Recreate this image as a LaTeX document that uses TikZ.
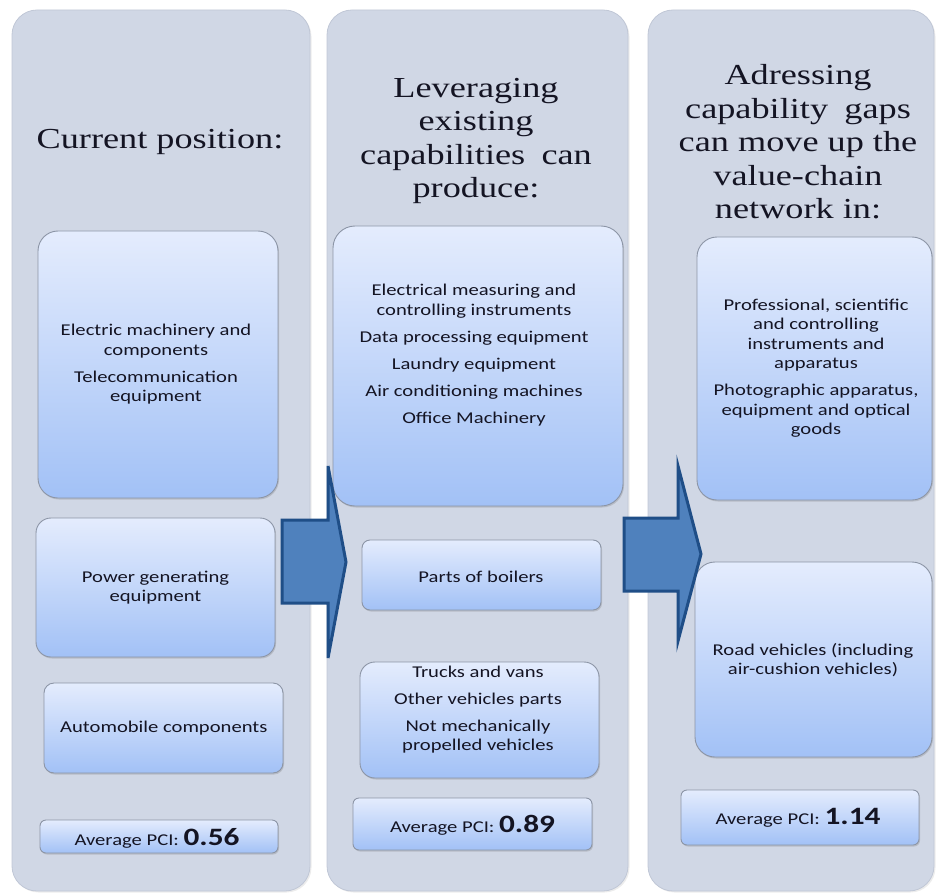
\documentclass[tikz,border=0pt]{standalone}
\usepackage{fontspec}
\setmainfont[FakeStretch=1.25]{Liberation Serif}
\newfontfamily\calfont[FakeStretch=1.25]{Carlito}
\usetikzlibrary{shadows}
\definecolor{colbg}{RGB}{208,215,229}
\definecolor{colln}{RGB}{192,199,214}
\definecolor{boxtop}{RGB}{228,236,253}
\definecolor{boxbot}{RGB}{162,193,246}
\definecolor{boxln}{RGB}{140,149,166}
\definecolor{arrfill}{RGB}{79,129,189}
\definecolor{arrln}{RGB}{31,78,135}
\definecolor{txt}{RGB}{20,20,35}
\tikzset{
  col/.style={draw=colln, fill=colbg, line width=0.8pt, rounded corners=25pt, inner sep=0pt,
    drop shadow={shadow xshift=1.5pt, shadow yshift=-1.5pt, opacity=0.15}},
  box/.style={draw=boxln, line width=0.9pt, top color=boxtop, bottom color=boxbot, inner sep=0pt,
    drop shadow={shadow xshift=1pt, shadow yshift=-1.5pt, opacity=0.3}},
  headtxt/.style={font=\fontsize{29}{33.5}\selectfont, align=center, text=txt, inner sep=0pt},
  itemtxt/.style={font=\calfont\fontsize{16.5}{19.5}\selectfont, align=center, text=txt, inner sep=0pt},
  blockarrow/.style={draw=arrln, fill=arrfill, line width=3pt, line join=miter},
}
\newcommand{\pci}[1]{{\calfont\fontsize{16.5}{19.5}\selectfont Average PCI: }{\calfont\bfseries\fontsize{25}{28}\selectfont #1}}
\begin{document}
\begin{tikzpicture}[x=1pt, y=-1pt]
\useasboundingbox (0,0) rectangle (936,893);
% columns
\node[col, minimum width=298pt, minimum height=881pt] (c1) at (161,450.5) {};
\node[col, minimum width=301pt, minimum height=881pt] (c2) at (477.5,450.5) {};
\node[col, minimum width=286pt, minimum height=881pt] (c3) at (791,450.5) {};
% headers
\node[headtxt] (h1) at (160,142) {Current position:};
\node[headtxt] (h2) at (476,141) {Leveraging\\existing\\capabilities\hspace{0.25em} can\\produce:};
\node[headtxt] (h3) at (798,142) {Adressing\\capability\hspace{0.25em} gaps\\can move up the\\value-chain\\network in:};
% column 1 boxes
\node[box, rounded corners=20pt, minimum width=240pt, minimum height=267pt] (bA) at (158,364.5) {};
\node[box, rounded corners=15pt, minimum width=239pt, minimum height=139pt] (bB) at (155.5,587.5) {};
\node[box, rounded corners=10pt, minimum width=239pt, minimum height=90pt] (bC) at (163.5,728) {};
\node[box, rounded corners=6pt, minimum width=238pt, minimum height=33pt] (p1) at (159,836.5) {};
% column 2 boxes
\node[box, rounded corners=22pt, minimum width=290pt, minimum height=280pt] (bD) at (478,366) {};
\node[box, rounded corners=8pt, minimum width=239pt, minimum height=70pt] (bE) at (481.5,575) {};
\node[box, rounded corners=15pt, minimum width=239pt, minimum height=116pt] (bF) at (479.5,720) {};
\node[box, rounded corners=6pt, minimum width=239pt, minimum height=52pt] (p2) at (472.5,824) {};
% column 3 boxes
\node[box, rounded corners=20pt, minimum width=235pt, minimum height=263pt] (bG) at (814.5,368.5) {};
\node[box, rounded corners=20pt, minimum width=237pt, minimum height=195pt] (bH) at (813.5,659.5) {};
\node[box, rounded corners=6pt, minimum width=238pt, minimum height=55pt] (p3) at (800,817.5) {};
% texts
\node[itemtxt] (tA) at (156,364.5) {Electric machinery and\\components\\[7.5pt]Telecommunication\\equipment};
\node[itemtxt] (tB) at (155.5,587.5) {Power generating\\equipment};
\node[itemtxt] (tC) at (163.8,728) {Automobile components};
\node[itemtxt] (tP1) at (157,838) {\pci{0.56}};
\node[itemtxt] (tD) at (474,355) {Electrical measuring and\\controlling instruments\\[7.5pt]Data processing equipment\\[7.5pt]Laundry equipment\\[7.5pt]Air conditioning machines\\[7.5pt]Office Machinery};
\node[itemtxt] (tE) at (481,577) {Parts of boilers};
\node[itemtxt] (tF) at (478,709.5) {Trucks and vans\\[7.5pt]Other vehicles parts\\[7.5pt]Not mechanically\\propelled vehicles};
\node[itemtxt] (tP2) at (472.5,825) {\pci{0.89}};
\node[itemtxt] (tG) at (816,368) {Professional, scientific\\and controlling\\instruments and\\apparatus\\[7.5pt]Photographic apparatus,\\equipment and optical\\goods};
\node[itemtxt] (tH) at (813,660) {Road vehicles (including\\air-cushion vehicles)};
\node[itemtxt] (tP3) at (798,818) {\pci{1.14}};
% block arrows
\draw[blockarrow] (282,520) -- (328,520) -- (328,466) -- (346,562) -- (328,658) -- (328,603) -- (282,603) -- cycle;
\draw[blockarrow] (624,518) -- (678,518) -- (678,466) -- (701,554) -- (678,641) -- (678,591) -- (624,591) -- cycle;
\end{tikzpicture}
\end{document}
